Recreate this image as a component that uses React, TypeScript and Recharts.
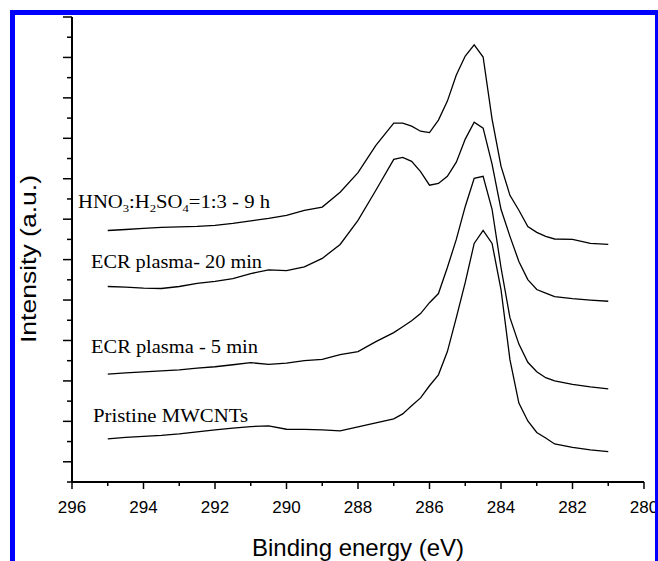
import React from 'react';
import { LineChart, Line, XAxis, YAxis } from 'recharts';

// binding energy grid (eV), shared by all four spectra
const energies = [
  295, 294.5, 294, 293.5, 293, 292.5, 292, 291.5, 291, 290.5, 290, 289.5, 289,
  288.5, 288, 287.5, 287, 286.75, 286.5, 286.25, 286, 285.75, 285.5, 285.25,
  285, 284.75, 284.5, 284.25, 284, 283.75, 283.5, 283.25, 283, 282.75, 282.5,
  282, 281.5, 281,
];

// stacked intensities (a.u.), top to bottom
const acidTreated = [
  12.44, 12.49, 12.54, 12.59, 12.62, 12.64, 12.69, 12.79, 12.92, 13.04, 13.19,
  13.44, 13.6, 14.33, 15.3, 16.65, 17.75, 17.75, 17.6, 17.35, 17.28, 17.9,
  18.84, 20.13, 21.07, 21.62, 21.02, 17.95, 15.62, 14.18, 13.44, 12.64, 12.35,
  12.15, 12.02, 12.0, 11.8, 11.75,
];
const ecr20 = [
  9.67, 9.64, 9.59, 9.57, 9.67, 9.82, 9.92, 10.06, 10.31, 10.49, 10.46, 10.64,
  11.06, 11.75, 12.94, 14.43, 15.96, 16.06, 15.86, 15.35, 14.68, 14.77, 15.12,
  15.82, 16.96, 17.8, 17.5, 15.72, 13.49, 12.15, 10.91, 10.01, 9.52, 9.34, 9.17,
  9.07, 9.0, 8.94,
];
const ecr5 = [
  5.34, 5.4, 5.45, 5.5, 5.55, 5.63, 5.7, 5.8, 5.9, 5.82, 5.88, 6.0, 6.07, 6.3,
  6.45, 6.94, 7.39, 7.68, 7.98, 8.33, 8.87, 9.32, 10.61, 12.0, 13.63, 15.02,
  15.12, 13.49, 10.61, 8.13, 6.82, 5.92, 5.45, 5.16, 5.0, 4.83, 4.71, 4.61,
];
const pristine = [
  2.13, 2.21, 2.26, 2.31, 2.38, 2.48, 2.58, 2.66, 2.74, 2.78, 2.61, 2.6, 2.58,
  2.53, 2.73, 2.93, 3.12, 3.37, 3.77, 4.16, 4.76, 5.3, 6.45, 8.13, 9.87, 11.8,
  12.44, 11.8, 9.52, 6.05, 3.9, 3.02, 2.45, 2.18, 1.88, 1.71, 1.59, 1.5,
];

const xTicks = [296, 295, 294, 293, 292, 291, 290, 289, 288, 287, 286, 285, 284, 283, 282, 281, 280];
const yTicks = Array.from({ length: 24 }, (_, i) => i);

const data = energies.map((e, i) => ({
  energy: e,
  acid: acidTreated[i],
  ecr20: ecr20[i],
  ecr5: ecr5[i],
  pristine: pristine[i],
}));

const sans = '"Liberation Sans", Arial, sans-serif';
const serif = '"Liberation Serif", "Times New Roman", serif';
const BLUE = '#0000ff';

const XTick = (props: any) => {
  const { x, y, payload } = props;
  const major = payload.value % 2 === 0;
  return (
    <g>
      <line x1={x} x2={x} y1={y} y2={y + (major ? 7 : 4)} stroke="#000" strokeWidth={1.5} />
      {major && (
        <text x={x} y={y + 31} textAnchor="middle" fontSize={17} fontFamily={sans} fill="#000">
          {payload.value}
        </text>
      )}
    </g>
  );
};

const YTick = (props: any) => {
  const { x, y, payload } = props;
  const major = payload.value % 2 === 1;
  return <line x1={x - (major ? 9 : 5)} x2={x} y1={y} y2={y} stroke="#000" strokeWidth={1.5} />;
};

export default function App() {
  return (
    <div style={{ position: 'absolute', left: 0, top: 0, width: 658, height: 561, background: '#fff' }}>
      <LineChart width={658} height={561} data={data} margin={{ top: 17, right: 14, bottom: 0, left: 0 }}>
        <XAxis
          dataKey="energy"
          type="number"
          domain={[280, 296]}
          reversed
          ticks={xTicks}
          interval={0}
          height={79}
          tickSize={0}
          tickMargin={0}
          tickLine={false}
          tick={<XTick />}
          axisLine={{ stroke: '#000', strokeWidth: 2 }}
        />
        <YAxis
          type="number"
          domain={[0, 23]}
          ticks={yTicks}
          interval={0}
          width={72}
          tickSize={0}
          tickMargin={0}
          tickLine={false}
          tick={<YTick />}
          axisLine={{ stroke: '#000', strokeWidth: 2 }}
        />
        <Line dataKey="acid" stroke="#000" strokeWidth={1.3} dot={false} isAnimationActive={false} />
        <Line dataKey="ecr20" stroke="#000" strokeWidth={1.3} dot={false} isAnimationActive={false} />
        <Line dataKey="ecr5" stroke="#000" strokeWidth={1.3} dot={false} isAnimationActive={false} />
        <Line dataKey="pristine" stroke="#000" strokeWidth={1.3} dot={false} isAnimationActive={false} />
      </LineChart>

      <svg width={658} height={561} style={{ position: 'absolute', left: 0, top: 0, pointerEvents: 'none' }}>
        <text x={358} y={556} textAnchor="middle" fontSize={24} fontFamily={sans} fill="#000">
          Binding energy (eV)
        </text>
        <text
          transform="translate(36,259) rotate(-90)"
          textAnchor="middle"
          fontSize={22}
          fontFamily={sans}
          fill="#000"
          textLength={168}
          lengthAdjust="spacingAndGlyphs"
        >
          Intensity (a.u.)
        </text>
        <text x={78} y={208} fontSize={18} fontFamily={serif} fill="#000" textLength={192} lengthAdjust="spacingAndGlyphs">
          HNO<tspan dy={4} fontSize={11}>3</tspan>
          <tspan dy={-4}>:H</tspan>
          <tspan dy={4} fontSize={11}>2</tspan>
          <tspan dy={-4}>SO</tspan>
          <tspan dy={4} fontSize={11}>4</tspan>
          <tspan dy={-4}>=1:3 - 9 h</tspan>
        </text>
        <text x={91} y={268} fontSize={18} fontFamily={serif} fill="#000" textLength={171} lengthAdjust="spacingAndGlyphs">
          ECR plasma- 20 min
        </text>
        <text x={91} y={353} fontSize={18} fontFamily={serif} fill="#000" textLength={167} lengthAdjust="spacingAndGlyphs">
          ECR plasma - 5 min
        </text>
        <text x={93} y={422} fontSize={18} fontFamily={serif} fill="#000" textLength={155} lengthAdjust="spacingAndGlyphs">
          Pristine MWCNTs
        </text>
      </svg>

      <div style={{ position: 'absolute', left: 10, top: 10, width: 648, height: 5, background: BLUE }} />
      <div style={{ position: 'absolute', left: 10, top: 10, width: 5, height: 551, background: BLUE }} />
      <div style={{ position: 'absolute', left: 655, top: 10, width: 3, height: 551, background: BLUE }} />
    </div>
  );
}
